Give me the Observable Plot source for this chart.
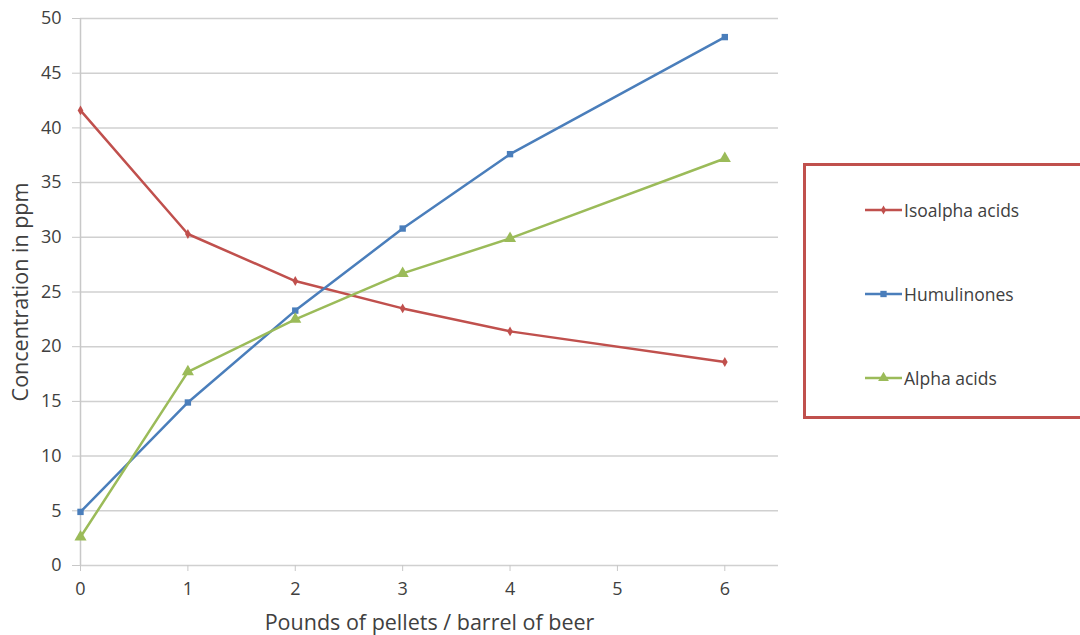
<!DOCTYPE html>
<html>
<head>
<meta charset="utf-8">
<script src="https://cdn.jsdelivr.net/npm/d3@7"></script>
<script src="https://cdn.jsdelivr.net/npm/@observablehq/plot@0.6"></script>
<style>
  html, body { margin: 0; padding: 0; background: #fff; }
  #wrap { position: relative; width: 1080px; height: 635px; font-family: "Open Sans", sans-serif; }
  #wrap svg text { font-size: 18px; }
  #wrap svg g[aria-label="x-axis label"] text, #wrap svg g[aria-label="y-axis label"] text { font-size: 21.5px; }
  #legend {
    position: absolute; left: 803px; top: 163px; width: 290px; height: 250px;
    border: 3px solid #c0504d; box-sizing: content-box; background: #fff;
  }
  .item { position: absolute; left: 59px; display: flex; align-items: center; font-size: 17.5px; color: #404040; }
  .item svg { margin-right: 2px; }
</style>
</head>
<body>
<div id="wrap"><div id="legend"></div></div>
<script>
const xValues = [0, 1, 2, 3, 4, 6];
const isoalpha = [41.6, 30.3, 26.0, 23.5, 21.4, 18.6];
const humulinones = [4.9, 14.9, 23.3, 30.8, 37.6, 48.3];
const alpha = [2.6, 17.7, 22.5, 26.7, 29.9, 37.2];
const seriesNames = ["Isoalpha acids", "Humulinones", "Alpha acids"];
const seriesColors = ["#c0504d", "#4a7ebb", "#9bbb59"];
const seriesSymbols = ["diamond", "square", "triangle"];
const seriesR = [3, 3.6, 4.5];
const xTicks = [0, 1, 2, 3, 4, 5, 6];
const yTicks = [0, 5, 10, 15, 20, 25, 30, 35, 40, 45, 50];

const seriesValues = [isoalpha, humulinones, alpha];
const data = [];
seriesNames.forEach((name, i) => {
  xValues.forEach((x, j) => data.push({series: name, x, y: seriesValues[i][j]}));
});

const marks = [
  Plot.ruleY(yTicks, {stroke: "#d0d0d0", strokeWidth: 1.5}),
  Plot.ruleX([0], {stroke: "#c8c8c8", strokeWidth: 1.5}),
  Plot.axisX({ticks: xTicks, tickFormat: "d", tickSize: 6, tickPadding: 11, stroke: "#c8c8c8", color: "#404040",
    label: "Pounds of pellets / barrel of beer", labelAnchor: "center", labelOffset: 64, labelArrow: false}),
  Plot.axisY({ticks: yTicks, tickFormat: "d", tickSize: 8, tickPadding: 11, stroke: "#c8c8c8", color: "#404040",
    label: "Concentration in ppm", labelAnchor: "center", labelOffset: 68, labelArrow: false})
];
seriesNames.forEach((name, i) => {
  const d = data.filter(r => r.series === name);
  marks.push(Plot.line(d, {x: "x", y: "y", stroke: seriesColors[i], strokeWidth: 2.5}));
  marks.push(Plot.dot(d, {x: "x", y: "y", fill: seriesColors[i], stroke: "none", symbol: seriesSymbols[i], r: seriesR[i]}));
});

const chart = Plot.plot({
  width: 1080, height: 635,
  marginLeft: 80, marginRight: 302, marginTop: 18, marginBottom: 70,
  style: {fontFamily: "Open Sans, sans-serif", fontSize: "18px", color: "#404040", background: "transparent"},
  x: {domain: [0, 6.5]},
  y: {domain: [0, 50]},
  marks
});
chart.querySelectorAll("g[aria-label='x-axis label'] text, g[aria-label='y-axis label'] text").forEach(t => {
  t.setAttribute("fill", "#404040");
});
document.getElementById("wrap").prepend(chart);

const legend = document.getElementById("legend");
const rowTops = [44, 128, 212];
seriesNames.forEach((name, i) => {
  const div = document.createElement("div");
  div.className = "item";
  div.style.top = (rowTops[i] - 12) + "px";
  const sw = d3.create("svg").attr("width", 37).attr("height", 12);
  sw.append("line").attr("x1", 0).attr("x2", 37).attr("y1", 6).attr("y2", 6)
    .attr("stroke", seriesColors[i]).attr("stroke-width", 2.5);
  sw.append("path").attr("transform", "translate(18.5,6)")
    .attr("d", d3.symbol(seriesSymbols[i] === "diamond" ? d3.symbolDiamond : seriesSymbols[i] === "square" ? d3.symbolSquare : d3.symbolTriangle, [24, 40, 50][i])())
    .attr("fill", seriesColors[i]);
  div.append(sw.node());
  const span = document.createElement("span");
  span.textContent = name;
  div.append(span);
  legend.append(div);
});
</script>
</body>
</html>
